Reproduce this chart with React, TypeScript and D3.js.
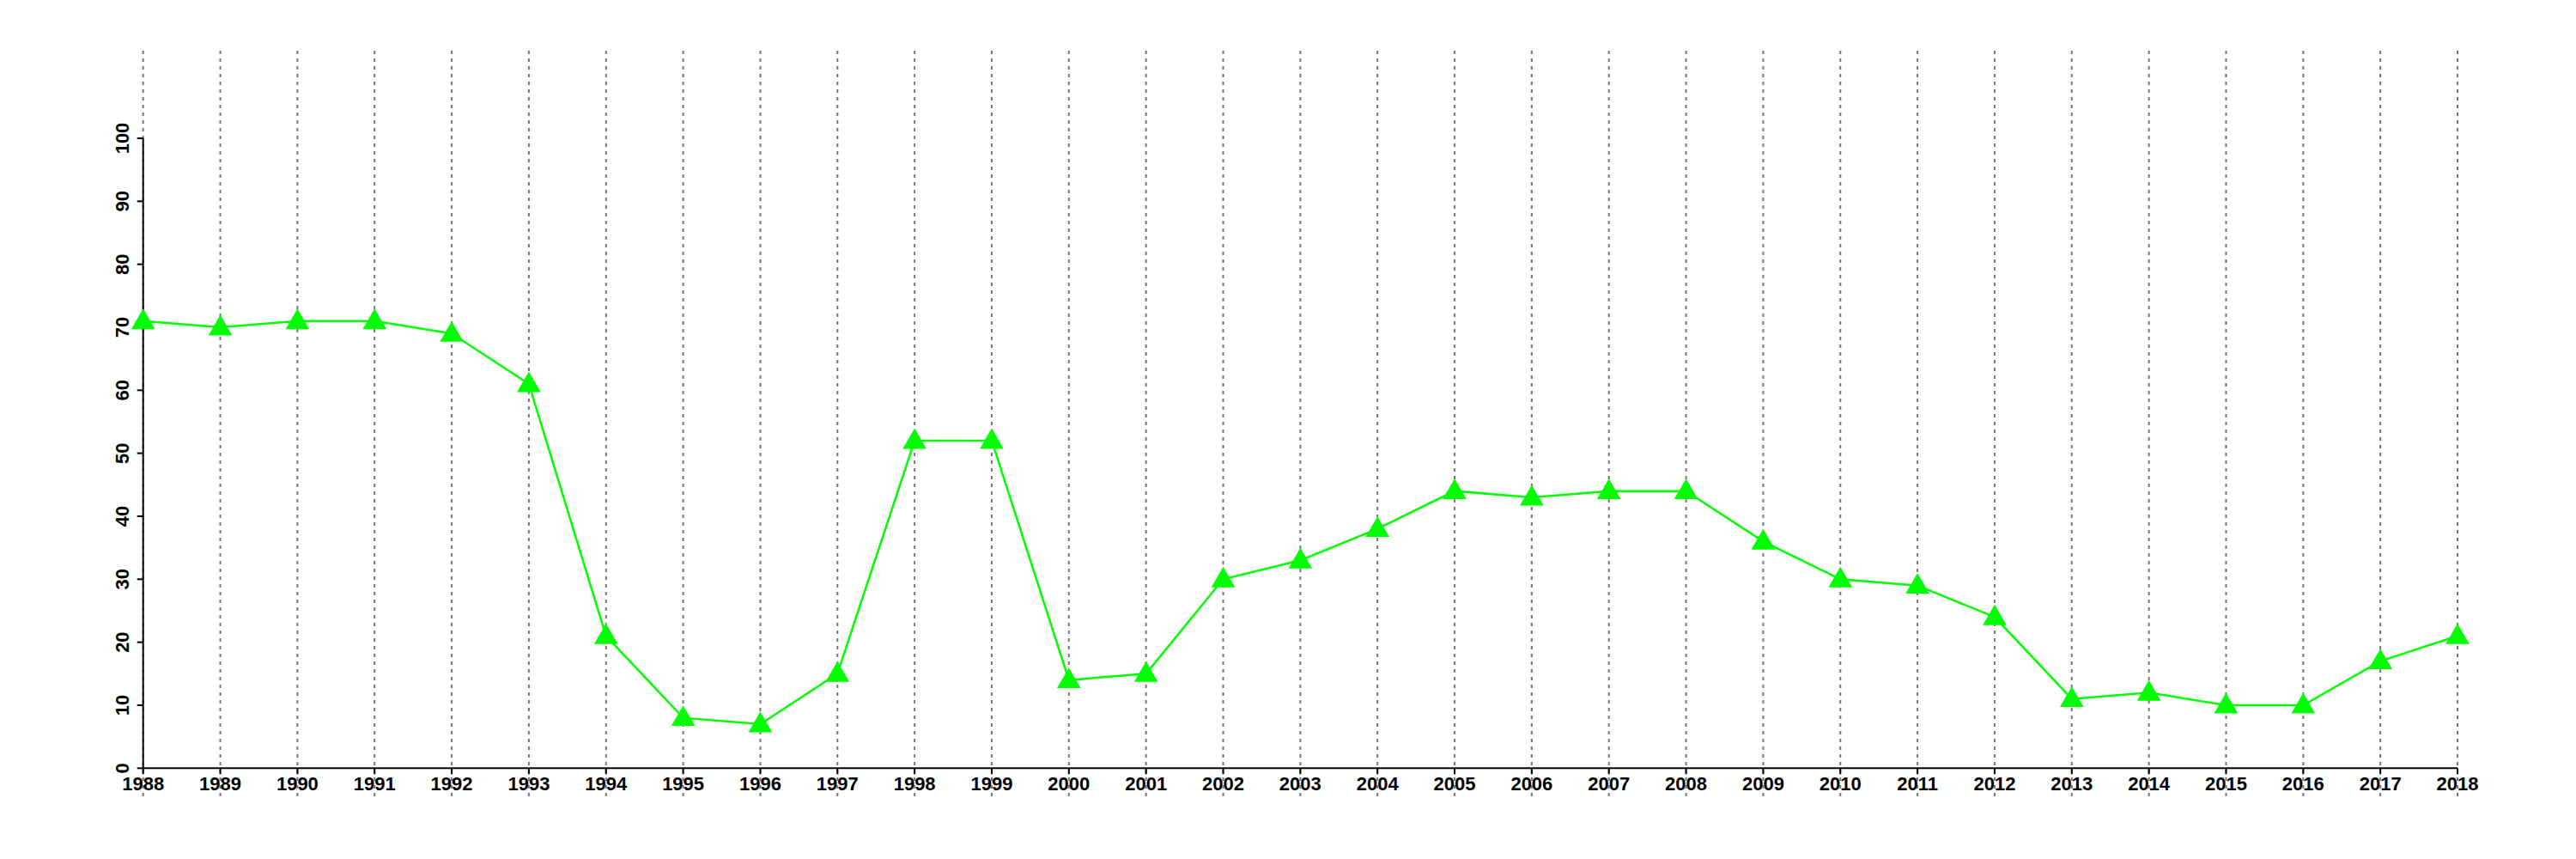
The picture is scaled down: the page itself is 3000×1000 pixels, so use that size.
import React from "react";
import * as d3 from "d3";

const years: number[] = [1988,1989,1990,1991,1992,1993,1994,1995,1996,1997,1998,1999,2000,2001,2002,2003,2004,2005,2006,2007,2008,2009,2010,2011,2012,2013,2014,2015,2016,2017,2018];
const values: number[] = [71,70,71,71,69,61,21,8,7,15,52,52,14,15,30,33,38,44,43,44,44,36,30,29,24,11,12,10,10,17,21];
const yTicks: number[] = [0,10,20,30,40,50,60,70,80,90,100];

const W = 3000, H = 1000;
const left = 166.7, right = 2862, bottom = 894.3, top = 161;
const gridTop = 59, gridBottom = 927;

export default function App() {
  const x = d3.scaleLinear().domain([1988, 2018]).range([left, right]);
  const y = d3.scaleLinear().domain([0, 100]).range([bottom, top]);
  const line = d3.line<number>().x((_, i) => x(years[i])).y((d) => y(d));
  const tri = d3.symbol().type(d3.symbolTriangle).size(330)();
  const font = "'Liberation Sans', Arial, Helvetica, sans-serif";
  return (
    <svg width={W} height={H} style={{ position: "absolute", left: 0, top: 0, background: "#fff" }}>
      <g>
        {years.map((yr) => (
          <line key={"g" + yr} x1={x(yr)} x2={x(yr)} y1={gridTop} y2={gridBottom}
            stroke="#777" strokeWidth={2} strokeDasharray="4,5" />
        ))}
      </g>
      <g fontFamily={font} fontWeight="bold" fontSize={22} fill="#000">
        <line x1={left} x2={left} y1={y(0)} y2={y(100)} stroke="#000" strokeWidth={2} />
        {yTicks.map((t) => (
          <g key={"y" + t}>
            <line x1={left - 7} x2={left} y1={y(t)} y2={y(t)} stroke="#000" strokeWidth={2} />
            <text transform={`translate(${150},${y(t)}) rotate(-90)`} textAnchor="middle">{t}</text>
          </g>
        ))}
        <line x1={x(1988)} x2={x(2018)} y1={bottom} y2={bottom} stroke="#000" strokeWidth={2} />
        {years.map((yr) => (
          <g key={"x" + yr}>
            <line x1={x(yr)} x2={x(yr)} y1={bottom} y2={bottom + 7} stroke="#000" strokeWidth={2} />
            <text x={x(yr)} y={920} textAnchor="middle">{yr}</text>
          </g>
        ))}
      </g>
      <path d={line(values) || ""} fill="none" stroke="#00ff00" strokeWidth={2.5} />
      <g fill="#00ff00">
        {values.map((v, i) => (
          <path key={"m" + i} d={tri || ""} transform={`translate(${x(years[i])},${y(v) + 1.5})`} />
        ))}
      </g>
    </svg>
  );
}
